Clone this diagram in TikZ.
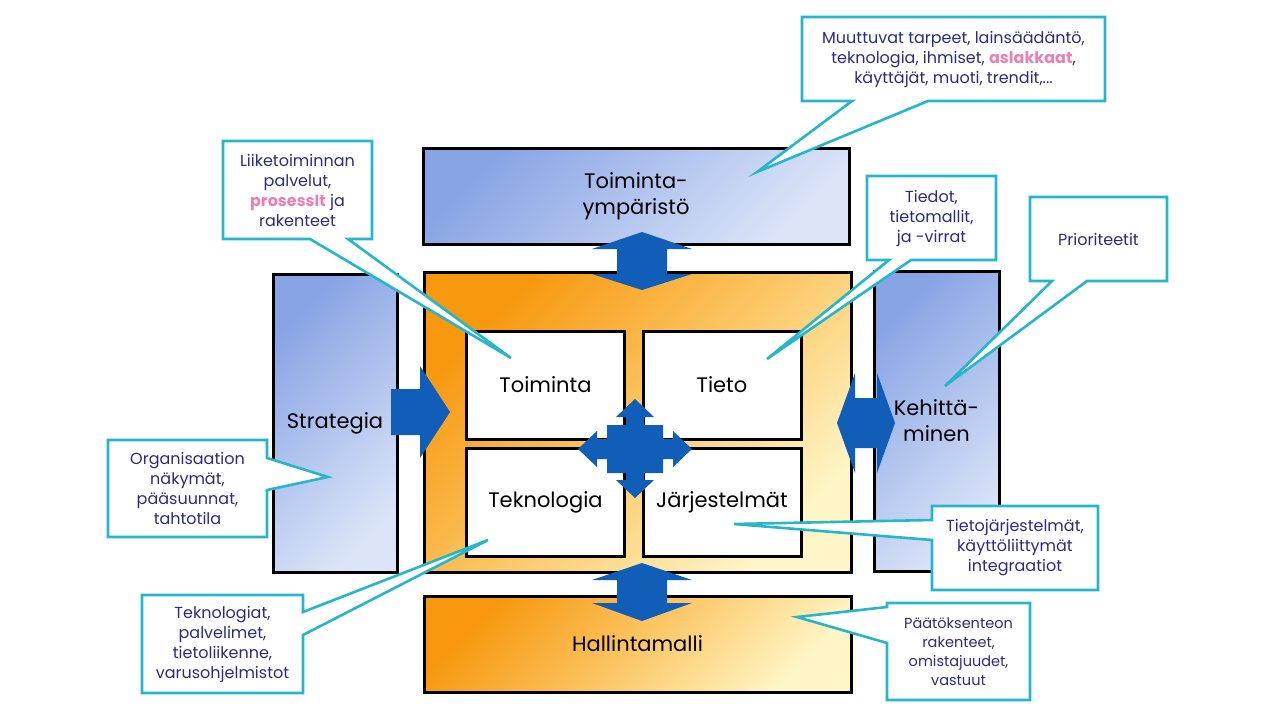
\documentclass[tikz,border=0pt]{standalone}
\usepackage{fontspec}
\setmainfont{Poppins}
\usepackage{tikz}
\usepackage{xcolor}

\definecolor{notecyan}{RGB}{38,182,204}
\definecolor{notetext}{RGB}{45,43,125}
\definecolor{notepink}{RGB}{236,128,176}
\definecolor{arrowblue}{RGB}{16,94,184}
\definecolor{bluedark}{RGB}{136,164,229}
\definecolor{bluelight}{RGB}{220,229,248}
\definecolor{orangedark}{RGB}{247,152,14}
\definecolor{orangemid}{RGB}{252,198,100}
\definecolor{orangelight}{RGB}{255,245,198}

\begin{document}
\begin{tikzpicture}[x=1pt, y=-1pt, outer sep=0pt, inner sep=0pt,
	bluebox/.style={draw=black, line width=3pt, top color=bluedark, bottom color=bluelight, shading angle=45, align=center, font=\fontsize{21}{26}\selectfont},
	orangebox/.style={draw=black, line width=3pt, top color=orangedark, bottom color=orangelight, middle color=orangemid, shading angle=45, align=center, font=\fontsize{21}{26}\selectfont},
	cell/.style={draw=black, line width=3pt, fill=white, minimum width=158, minimum height=108, font=\fontsize{21}{26}\selectfont},
	note/.style={fill=white, align=center, text=notetext, font=\fontsize{16}{20}\selectfont},
	noteline/.style={draw=notecyan, line width=2.6pt, line join=miter},
	blockarrow/.style={fill=arrowblue}]
	\fill[white] (0,0) rectangle (1280,720);
	\useasboundingbox (0,0) rectangle (1280,720);

	% boxes
	\node[bluebox, minimum width=426, minimum height=96] (ymp) at (636,196) {Toiminta-\\ympäristö};
	\node[orangebox, minimum width=427, minimum height=300] (core) at (637.5,422) {};
	\node[bluebox, minimum width=124, minimum height=298] (strat) at (335,423) {Strategia};
	\node[bluebox, minimum width=125, minimum height=300] (kehit) at (936.5,421) {Kehittä-\\minen};
	\node[orangebox, minimum width=427, minimum height=96] (hall) at (637.5,644) {Hallintamalli};

	\node[cell] (toim) at (545.5,385) {Toiminta};
	\node[cell] (tieto) at (722,385) {Tieto};
	\node[cell] (tekn) at (545.5,502) {Teknologia};
	\node[cell] (jarj) at (722,502) {Järjestelmät};

	% arrows
	\fill[blockarrow] (642,232) -- (692,249) -- (667,249) -- (667,274) -- (692,274) -- (642,290)
		-- (592,274) -- (617,274) -- (617,249) -- (592,249) -- cycle;
	\fill[blockarrow] (642,563) -- (692,580) -- (667,580) -- (667,603) -- (692,603) -- (642,621)
		-- (592,603) -- (617,603) -- (617,580) -- (592,580) -- cycle;
	\fill[blockarrow] (391,389) -- (420,389) -- (420,366) -- (450,412) -- (420,458) -- (420,435) -- (391,435) -- cycle;
	\fill[blockarrow] (837,423) -- (855,373) -- (855,398) -- (877,398) -- (877,373) -- (895,423)
		-- (877,473) -- (877,448) -- (855,448) -- (855,473) -- cycle;
	\fill[blockarrow] (635,399) -- (654,417) -- (644,417) -- (644,425) -- (663,425) -- (663,439) -- (673,439) -- (673,431)
		-- (692,449) -- (673,467) -- (673,459) -- (663,459) -- (663,473) -- (644,473) -- (644,480) -- (654,480)
		-- (635,498) -- (616,480) -- (626,480) -- (626,473) -- (607,473) -- (607,459) -- (597,459) -- (597,467)
		-- (578,449) -- (597,431) -- (597,439) -- (607,439) -- (607,425) -- (626,425) -- (626,417) -- (616,417) -- cycle;

	% callouts
	\node[note, minimum width=303, minimum height=84] (tp) at (953.5,59)
		{Muuttuvat tarpeet, lainsäädäntö,\\teknologia, ihmiset, {\color{notepink}\bfseries aslakkaat},\\käyttäjät, muoti, trendit,...};
	\coordinate (tp-tip) at (757,172);
	\fill[white] (852,0 |- tp.south) -- (tp-tip) -- (928,0 |- tp.south) -- cycle;
	\draw[noteline] (tp-tip) -- (928,0 |- tp.south) -- (tp.south east) -- (tp.north east) -- (tp.north west)
		-- (tp.south west) -- (852,0 |- tp.south) -- cycle;

	\node[note, minimum width=149, minimum height=98] (lp) at (297.5,190)
		{Liiketoiminnan\\palvelut,\\{\color{notepink}\bfseries prosessIt} ja\\rakenteet};
	\coordinate (lp-tip) at (511,358);
	\fill[white] (310,0 |- lp.south) -- (lp-tip) -- (348,0 |- lp.south) -- cycle;
	\draw[noteline] (lp-tip) -- (348,0 |- lp.south) -- (lp.south east) -- (lp.north east) -- (lp.north west)
		-- (lp.south west) -- (310,0 |- lp.south) -- cycle;

	\node[note, minimum width=129, minimum height=84] (tdp) at (931.5,218) {Tiedot,\\tietomallit,\\ja -virrat};
	\coordinate (tdp-tip) at (767,359);
	\fill[white] (889,0 |- tdp.south) -- (tdp-tip) -- (911,0 |- tdp.south) -- cycle;
	\draw[noteline] (tdp-tip) -- (911,0 |- tdp.south) -- (tdp.south east) -- (tdp.north east) -- (tdp.north west)
		-- (tdp.south west) -- (889,0 |- tdp.south) -- cycle;

	\node[note, minimum width=137, minimum height=84] (pp) at (1098.5,239) {Prioriteetit};
	\coordinate (pp-tip) at (945,386);
	\fill[white] (1052,0 |- pp.south) -- (pp-tip) -- (1087,0 |- pp.south) -- cycle;
	\draw[noteline] (pp-tip) -- (1087,0 |- pp.south) -- (pp.south east) -- (pp.north east) -- (pp.north west)
		-- (pp.south west) -- (1052,0 |- pp.south) -- cycle;

	\node[note, minimum width=159, minimum height=97] (op) at (187.5,488.5)
		{Organisaation\\näkymät,\\pääsuunnat,\\tahtotila};
	\coordinate (op-tip) at (328,477);
	\fill[white] (op.east |- 0,458) -- (op-tip) -- (op.east |- 0,490) -- cycle;
	\draw[noteline] (op-tip) -- (op.east |- 0,490) -- (op.south east) -- (op.south west) -- (op.north west)
		-- (op.north east) -- (op.east |- 0,458) -- cycle;

	\node[note, minimum width=161, minimum height=98] (tkp) at (222.5,644)
		{Teknologiat,\\palvelimet,\\tietoliikenne,\\varusohjelmistot};
	\coordinate (tkp-tip) at (488,540);
	\fill[white] (tkp.east |- 0,612) -- (tkp-tip) -- (tkp.east |- 0,635) -- cycle;
	\draw[noteline] (tkp-tip) -- (tkp.east |- 0,635) -- (tkp.south east) -- (tkp.south west) -- (tkp.north west)
		-- (tkp.north east) -- (tkp.east |- 0,612) -- cycle;

	\node[note, minimum width=166, minimum height=84] (tjp) at (1015,548)
		{Tietojärjestelmät,\\käyttöliittymät\\integraatiot};
	\coordinate (tjp-tip) at (734,524);
	\fill[white] (tjp.west |- 0,520) -- (tjp-tip) -- (tjp.west |- 0,540) -- cycle;
	\draw[noteline] (tjp-tip) -- (tjp.west |- 0,540) -- (tjp.south west) -- (tjp.south east) -- (tjp.north east)
		-- (tjp.north west) -- (tjp.west |- 0,520) -- cycle;

	\node[note, minimum width=143, minimum height=97, font=\fontsize{14.5}{19}\selectfont] (hp) at (958.5,651.5)
		{Päätöksenteon\\rakenteet,\\omistajuudet,\\vastuut};
	\coordinate (hp-tip) at (797,617);
	\fill[white] (hp.west |- 0,607) -- (hp-tip) -- (hp.west |- 0,643) -- cycle;
	\draw[noteline] (hp-tip) -- (hp.west |- 0,643) -- (hp.south west) -- (hp.south east) -- (hp.north east)
		-- (hp.north west) -- (hp.west |- 0,607) -- cycle;
\end{tikzpicture}
\end{document}
